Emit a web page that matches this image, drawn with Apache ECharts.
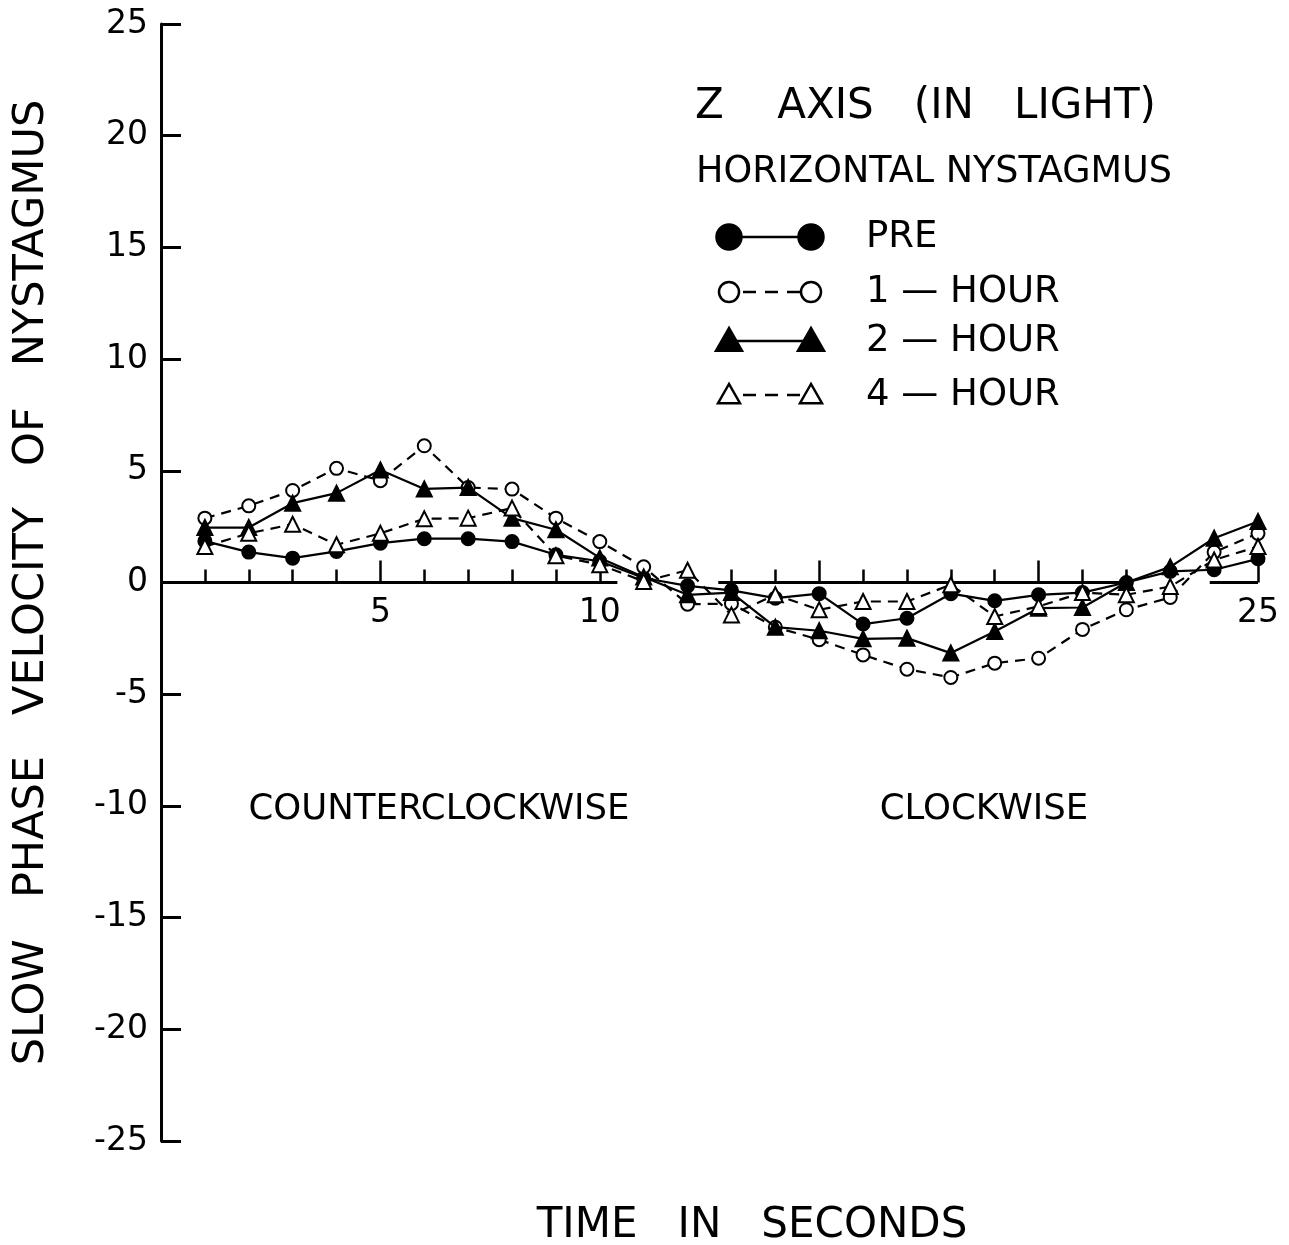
<!DOCTYPE html>
<html>
<head>
<meta charset="utf-8">
<title>Z axis (in light) - horizontal nystagmus</title>
<script src="https://cdn.jsdelivr.net/npm/echarts@6/dist/echarts.min.js"></script>
<style>
  html, body { margin: 0; padding: 0; background: #fff; }
  #chart { width: 1289px; height: 1245px; }
</style>
</head>
<body>
<div id="chart"></div>
<script>
// time in seconds
const seconds = [1, 2, 3, 4, 5, 6, 7, 8, 9, 10, 11, 12, 13, 14, 15, 16, 17, 18, 19, 20, 21, 22, 23, 24, 25];
// slow phase velocity
const pre      = [1.85, 1.36, 1.09, 1.39, 1.76, 1.96, 1.96, 1.83, 1.24, 0.95, 0.2, -0.15, -0.35, -0.7, -0.5, -1.86, -1.6, -0.5, -0.82, -0.55, -0.45, 0.0, 0.5, 0.57, 1.06];
const oneHour  = [2.88, 3.43, 4.12, 5.11, 4.56, 6.12, 4.25, 4.18, 2.88, 1.83, 0.7, -0.97, -0.95, -2.0, -2.56, -3.24, -3.88, -4.25, -3.61, -3.39, -2.1, -1.22, -0.67, 1.36, 2.2];
const twoHour  = [2.46, 2.46, 3.55, 4.0, 5.04, 4.19, 4.25, 2.88, 2.36, 1.1, 0.25, -0.55, -0.45, -2.0, -2.16, -2.52, -2.49, -3.16, -2.19, -1.15, -1.12, 0.0, 0.7, 1.98, 2.73];
const fourHour = [1.61, 2.2, 2.61, 1.69, 2.2, 2.85, 2.88, 3.33, 1.2, 0.8, 0.05, 0.55, -1.45, -0.55, -1.22, -0.85, -0.85, -0.1, -1.52, -1.07, -0.45, -0.55, -0.18, 1.01, 1.61];

// axis ticks / labels
const xMinorTicks = [1, 2, 3, 4, 6, 7, 8, 9, 13, 14, 16, 17, 18, 19, 21, 22];
const xMajorTicks = [5, 10, 15, 20, 25];
const xLabels = [5, 10, 25];
// pieces of the zero line (x from, x to)
const zeroSegments = [[0, 10.4], [12.7, 22.1], [23.9, 25]];

const seriesNames = ['PRE', '1 — HOUR', '2 — HOUR', '4 — HOUR'];
const seriesData = [pre, oneHour, twoHour, fourHour];
const seriesSymbols = ['circle', 'emptyCircle', 'triangle', 'emptyTriangle'];
const seriesDashed = [false, true, false, true];

const FONT = 'DejaVu Sans';
const INK = '#000';

const chart = echarts.init(document.getElementById('chart'));

const gridBox = { left: 161, right: 31, top: 24, bottom: 104 };

const lineSeries = seriesNames.map(function (name, i) {
  const tri = seriesSymbols[i].toLowerCase().indexOf('triangle') >= 0;
  return {
    name: name,
    type: 'line',
    xAxisIndex: 0,
    yAxisIndex: 0,
    data: seconds.map(function (s, j) { return [s, seriesData[i][j]]; }),
    symbol: seriesSymbols[i],
    symbolSize: tri ? 15 : 13,
    showSymbol: true,
    lineStyle: { color: INK, width: 2.2, type: seriesDashed[i] ? [10, 7] : 'solid' },
    itemStyle: { color: INK, borderColor: INK, borderWidth: 2 },
    emphasis: { disabled: true },
    z: 3 + i
  };
});

const zeroSeries = zeroSegments.map(function (seg) {
  return {
    type: 'line',
    xAxisIndex: 0,
    yAxisIndex: 0,
    data: [[seg[0], 0], [seg[1], 0]],
    symbol: 'none',
    lineStyle: { color: INK, width: 3 },
    emphasis: { disabled: true },
    silent: true,
    z: 2
  };
});

// tick labels of the time axis sit just under the zero line
const xLabelSeries = {
  type: 'scatter',
  xAxisIndex: 0,
  yAxisIndex: 0,
  data: xLabels.map(function (v) { return [v, 0]; }),
  symbolSize: 0,
  silent: true,
  itemStyle: { opacity: 1 },
  label: {
    show: true,
    position: 'bottom',
    distance: 14,
    formatter: function (p) { return String(p.value[0]); },
    fontFamily: FONT,
    fontSize: 33,
    color: INK,
    opacity: 1
  },
  z: 1
};

// legend drawn as "symbol - line - symbol  name"
const legendRowsY = [237, 292, 341, 395];
const legendGraphics = [];
seriesNames.forEach(function (name, i) {
  const y = legendRowsY[i];
  const x1 = 729, x2 = 811;
  const filled = !seriesDashed[i];
  const isTri = seriesSymbols[i].toLowerCase().indexOf('triangle') >= 0;
  legendGraphics.push({
    type: 'line',
    shape: { x1: x1, y1: y, x2: x2, y2: y },
    style: { stroke: INK, lineWidth: 2.5, lineDash: filled ? null : [13, 9], lineDashOffset: -14 }
  });
  [x1, x2].forEach(function (cx) {
    if (isTri) {
      const s = filled ? 13 : 11;
      legendGraphics.push({
        type: 'polygon',
        shape: { points: [[cx, y - s], [cx - s, y + s * 0.75], [cx + s, y + s * 0.75]] },
        style: { fill: filled ? INK : '#fff', stroke: INK, lineWidth: 2.5 }
      });
    } else {
      legendGraphics.push({
        type: 'circle',
        shape: { cx: cx, cy: y, r: filled ? 12.5 : 10 },
        style: { fill: filled ? INK : '#fff', stroke: INK, lineWidth: 2.5 }
      });
    }
  });
  legendGraphics.push({
    type: 'text',
    x: 866,
    y: y,
    style: { text: name, font: '37px "' + FONT + '"', fill: INK, textAlign: 'left', textVerticalAlign: 'middle', align: 'left', verticalAlign: 'middle' }
  });
});

function label(text, x, y, size) {
  return {
    type: 'text',
    x: x,
    y: y,
    style: { text: text, font: size + 'px "' + FONT + '"', fill: INK, textAlign: 'center', textVerticalAlign: 'middle', align: 'center', verticalAlign: 'middle' }
  };
}

const option = {
  animation: false,
  backgroundColor: '#fff',
  textStyle: { fontFamily: FONT, color: INK },
  title: [
    {
      text: 'Z    AXIS   (IN   LIGHT)',
      left: 695, top: 86, padding: 0,
      textStyle: { fontFamily: FONT, fontSize: 42, fontWeight: 'normal', color: INK }
    },
    {
      text: 'HORIZONTAL NYSTAGMUS',
      left: 696, top: 154, padding: 0,
      textStyle: { fontFamily: FONT, fontSize: 36.5, fontWeight: 'normal', color: INK }
    }
  ],
  grid: [
    Object.assign({}, gridBox),
    Object.assign({}, gridBox)
  ],
  xAxis: [
    {
      gridIndex: 0,
      type: 'value',
      min: 0,
      max: 25,
      axisLine: { show: false, onZero: true },
      axisTick: { show: true, inside: true, length: 13, customValues: xMinorTicks, lineStyle: { color: INK, width: 2.5 } },
      axisLabel: { show: false },
      splitLine: { show: false }
    },
    {
      gridIndex: 1,
      type: 'value',
      min: 0,
      max: 25,
      axisLine: { show: false, onZero: true },
      axisTick: { show: true, inside: true, length: 22, customValues: xMajorTicks, lineStyle: { color: INK, width: 2.5 } },
      axisLabel: { show: false },
      splitLine: { show: false }
    }
  ],
  yAxis: [
    {
      gridIndex: 0,
      type: 'value',
      min: -25,
      max: 25,
      interval: 5,
      name: 'SLOW   PHASE   VELOCITY   OF   NYSTAGMUS',
      nameLocation: 'middle',
      nameRotate: 90,
      nameGap: 108,
      nameTextStyle: { fontFamily: FONT, fontSize: 43, color: INK },
      axisLine: { show: true, onZero: false, lineStyle: { color: INK, width: 3 } },
      axisTick: { show: true, inside: true, length: 20, lineStyle: { color: INK, width: 3 } },
      axisLabel: { fontSize: 33, fontFamily: FONT, color: INK, margin: 13 },
      splitLine: { show: false }
    },
    {
      gridIndex: 1,
      type: 'value',
      min: -25,
      max: 25,
      interval: 5,
      show: false
    }
  ],
  graphic: legendGraphics.concat([
    label('COUNTERCLOCKWISE', 439, 810, 35.5),
    label('CLOCKWISE', 984, 810, 35.5),
    label('TIME   IN   SECONDS', 752, 1226, 42)
  ]),
  series: zeroSeries.concat(lineSeries, [xLabelSeries])
};

chart.setOption(option);
</script>
</body>
</html>
